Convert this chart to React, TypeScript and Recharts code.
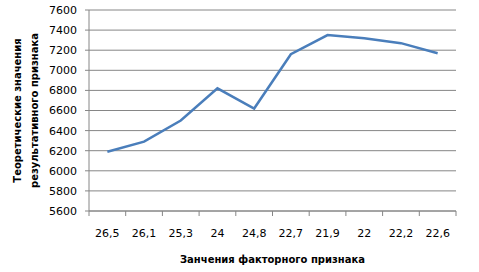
import { CartesianGrid, Label, Line, LineChart, XAxis, YAxis } from "recharts";

const factorValues = ["26,5", "26,1", "25,3", "24", "24,8", "22,7", "21,9", "22", "22,2", "22,6"];
const theoreticalValues = [6190, 6290, 6500, 6820, 6620, 7160, 7350, 7320, 7270, 7170];
const yTicks = [5600, 5800, 6000, 6200, 6400, 6600, 6800, 7000, 7200, 7400, 7600];

const data = factorValues.map((name, i) => ({ name, value: theoreticalValues[i] }));

const W = 479;
const H = 272;
const MARGIN = { top: 10, right: 23, bottom: 0, left: 0 };
const Y_AXIS_W = 89;
const X_AXIS_H = 61;
const AXIS_GRAY = "#868686";
const FONT = "Tahoma, 'DejaVu Sans', sans-serif";

const band = (W - MARGIN.left - MARGIN.right - Y_AXIS_W) / factorValues.length;

// Excel puts the category tick marks between the categories, not under them
function CategoryTick(props: any) {
  const { x, y, payload, index } = props;
  const last = index === factorValues.length - 1;
  return (
    <g>
      <line x1={x - band / 2} x2={x - band / 2} y1={y} y2={y + 5} stroke={AXIS_GRAY} />
      {last && <line x1={x + band / 2} x2={x + band / 2} y1={y} y2={y + 5} stroke={AXIS_GRAY} />}
      <text x={x} y={y + 26} textAnchor="middle" fontSize={11} fill="#000" fontFamily={FONT}>
        {payload.value}
      </text>
    </g>
  );
}

function YTitle(props: any) {
  const { viewBox } = props;
  const cy = viewBox.y + viewBox.height / 2;
  return (
    <g fontFamily={FONT} fontSize={10} fontWeight="bold" fill="#000" textAnchor="middle">
      <text transform={`translate(21, ${cy}) rotate(-90)`}>Теоретические значения</text>
      <text transform={`translate(38, ${cy}) rotate(-90)`}>результативного признака</text>
    </g>
  );
}

export default function App() {
  return (
    <div style={{ position: "absolute", left: 0, top: 0, background: "#fff" }}>
      <LineChart width={W} height={H} data={data} margin={MARGIN}>
        <CartesianGrid vertical={false} stroke={AXIS_GRAY} strokeWidth={1} />
        <XAxis
          dataKey="name"
          height={X_AXIS_H}
          interval={0}
          padding={{ left: band / 2, right: band / 2 }}
          tickSize={0}
          tickMargin={0}
          tick={<CategoryTick />}
          axisLine={{ stroke: AXIS_GRAY }}
          tickLine={false}
        >
          <Label
            value="Занчения факторного признака"
            position="insideBottom"
            offset={9}
            fontFamily={FONT}
            fontSize={10}
            fontWeight="bold"
            fill="#000"
          />
        </XAxis>
        <YAxis
          width={Y_AXIS_W}
          domain={[5600, 7600]}
          ticks={yTicks}
          interval={0}
          tickSize={4}
          tickMargin={8}
          axisLine={{ stroke: AXIS_GRAY }}
          tickLine={{ stroke: AXIS_GRAY }}
          tick={{ fontSize: 11, fill: "#000", fontFamily: FONT }}
        >
          <Label content={<YTitle />} />
        </YAxis>
        <Line
          type="linear"
          dataKey="value"
          stroke="#4A7EBB"
          strokeWidth={2.5}
          dot={false}
          activeDot={false}
          isAnimationActive={false}
        />
      </LineChart>
    </div>
  );
}
